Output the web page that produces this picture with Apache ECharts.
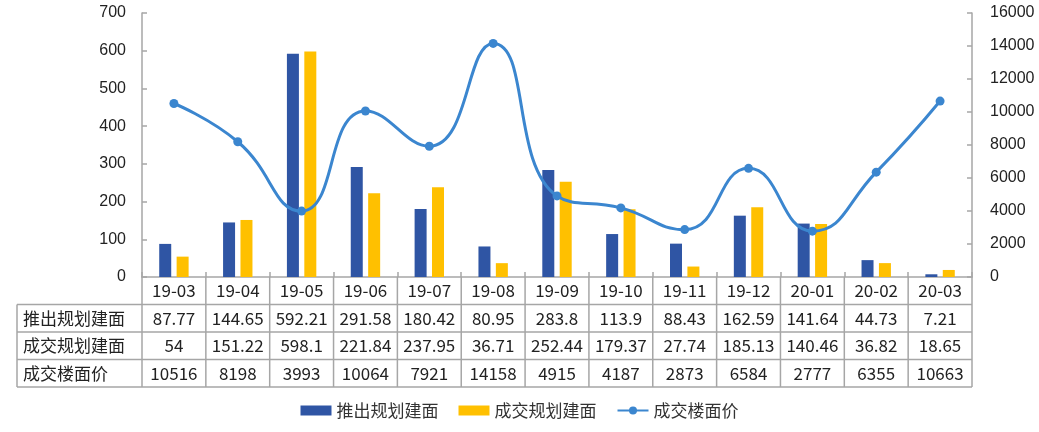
<!DOCTYPE html>
<html>
<head>
<meta charset="utf-8">
<script src="https://cdn.jsdelivr.net/npm/echarts@6/dist/echarts.min.js"></script>
<style>
html, body { margin: 0; padding: 0; background: #fff; }
#main { width: 1039px; height: 432px; }
</style>
</head>
<body>
<div id="main"></div>
<script>
var months = ["19-03", "19-04", "19-05", "19-06", "19-07", "19-08", "19-09", "19-10", "19-11", "19-12", "20-01", "20-02", "20-03"];
var launched = [87.77, 144.65, 592.21, 291.58, 180.42, 80.95, 283.8, 113.9, 88.43, 162.59, 141.64, 44.73, 7.21];
var sold = [54, 151.22, 598.1, 221.84, 237.95, 36.71, 252.44, 179.37, 27.74, 185.13, 140.46, 36.82, 18.65];
var price = [10516, 8198, 3993, 10064, 7921, 14158, 4915, 4187, 2873, 6584, 2777, 6355, 10663];
var seriesNames = ["推出规划建面", "成交规划建面", "成交楼面价"];
var leftTicks = [0, 100, 200, 300, 400, 500, 600, 700];
var rightTicks = [0, 2000, 4000, 6000, 8000, 10000, 12000, 14000, 16000];

var chart = echarts.init(document.getElementById("main"));
var gridColor = "#a6a6a6";
var cjk = "'Noto Sans CJK SC', sans-serif";

var option = {
	animation: false,
	grid: { left: 142, right: 67, top: 13, bottom: 155 },
	legend: {
		bottom: 8,
		left: "center",
		itemWidth: 31,
		itemHeight: 10,
		itemGap: 20,
		textStyle: { fontFamily: cjk, fontSize: 17, color: "#333" },
		data: [
			{ name: seriesNames[0], icon: "rect" },
			{ name: seriesNames[1], icon: "rect" },
			{ name: seriesNames[2] }
		]
	},
	xAxis: [{
		type: "category",
		data: months,
		axisLine: { lineStyle: { color: gridColor, width: 1.5 } },
		axisTick: { show: true, inside: true, length: 5, lineStyle: { color: gridColor, width: 1.5 } },
		axisLabel: { show: false }
	}],
	yAxis: [{
		type: "value",
		min: leftTicks[0],
		max: leftTicks[leftTicks.length - 1],
		interval: 100,
		axisLine: { show: true, lineStyle: { color: gridColor, width: 1.5 } },
		axisTick: { show: true, inside: true, length: 5, lineStyle: { color: gridColor, width: 1.5 } },
		splitLine: { show: false },
		axisLabel: { fontFamily: "'Liberation Sans', Arial", fontSize: 16, color: "#222", margin: 16 }
	}, {
		type: "value",
		min: rightTicks[0],
		max: rightTicks[rightTicks.length - 1],
		interval: 2000,
		axisLine: { show: true, lineStyle: { color: gridColor, width: 1.5 } },
		axisTick: { show: true, inside: true, length: 5, lineStyle: { color: gridColor, width: 1.5 } },
		splitLine: { show: false },
		axisLabel: {
			fontFamily: "'Liberation Sans', Arial", fontSize: 16, color: "#222", margin: 18,
			formatter: function(v) { return String(v); }
		}
	}],
	series: [{
		name: seriesNames[0],
		type: "bar",
		data: launched,
		barWidth: 12,
		barGap: "45%",
		itemStyle: { color: "#2f55a4" }
	}, {
		name: seriesNames[1],
		type: "bar",
		data: sold,
		barWidth: 12,
		barGap: "45%",
		itemStyle: { color: "#ffc000" }
	}, {
		name: seriesNames[2],
		type: "line",
		yAxisIndex: 1,
		data: price,
		smooth: 0.5,
		symbol: "circle",
		symbolSize: 9,
		lineStyle: { color: "#3b86cf", width: 3 },
		itemStyle: { color: "#3b86cf" }
	}]
};
chart.setOption(option);

// data table under the plot
function buildTable() {
	var x0 = chart.convertToPixel({ xAxisIndex: 0 }, 0);
	var x1 = chart.convertToPixel({ xAxisIndex: 0 }, 1);
	var colW = x1 - x0;
	var left = x0 - colW / 2;
	var right = left + colW * months.length;
	var top = chart.convertToPixel({ yAxisIndex: 0 }, 0);
	var rowH = 27.5;
	var tableLeft = 17;
	var els = [];
	var line = { stroke: gridColor, lineWidth: 1.5 };
	var rows = [launched, sold, price];
	var i, r;

	// horizontal lines
	for (r = 1; r <= 4; r++) {
		els.push({ type: "line", shape: { x1: tableLeft, y1: top + rowH * r, x2: right, y2: top + rowH * r }, style: line });
	}
	// vertical lines
	els.push({ type: "line", shape: { x1: tableLeft, y1: top + rowH, x2: tableLeft, y2: top + rowH * 4 }, style: line });
	for (i = 0; i <= months.length; i++) {
		var x = left + colW * i;
		els.push({ type: "line", shape: { x1: x, y1: top, x2: x, y2: top + rowH * 4 }, style: line });
	}
	// header row
	for (i = 0; i < months.length; i++) {
		els.push({
			type: "text",
			x: left + colW * (i + 0.5),
			y: top + rowH * 0.5,
			style: { text: months[i], align: "center", verticalAlign: "middle", font: "17px " + cjk, fill: "#222" }
		});
	}
	// data rows
	for (r = 0; r < rows.length; r++) {
		var cy = top + rowH * (r + 1.5);
		els.push({
			type: "text",
			x: tableLeft + 6,
			y: cy,
			style: { text: seriesNames[r], align: "left", verticalAlign: "middle", font: "17px " + cjk, fill: "#222" }
		});
		for (i = 0; i < months.length; i++) {
			els.push({
				type: "text",
				x: left + colW * (i + 0.5),
				y: cy,
				style: { text: String(rows[r][i]), align: "center", verticalAlign: "middle", font: "17px " + cjk, fill: "#222" }
			});
		}
	}
	chart.setOption({ graphic: els });
}
buildTable();
</script>
</body>
</html>
